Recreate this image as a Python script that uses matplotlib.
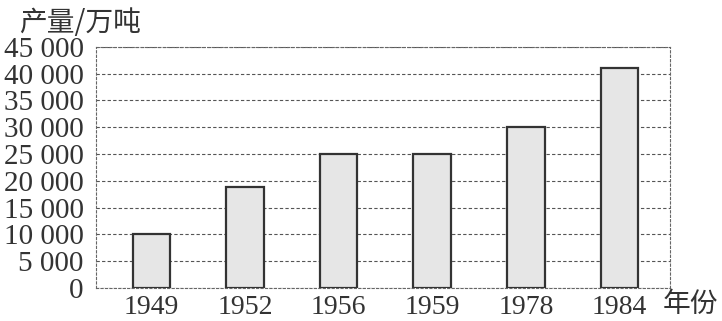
import matplotlib
matplotlib.use('Agg')
from matplotlib import pyplot as plt

years = ['1949', '1952', '1956', '1959', '1978', '1984']
output = [10000, 18800, 25000, 25000, 30000, 41000]
yticks = [0, 5000, 10000, 15000, 20000, 25000, 30000, 35000, 40000, 45000]
ytick_labels = ['0', '5 000', '10 000', '15 000', '20 000', '25 000',
                '30 000', '35 000', '40 000', '45 000']

plt.rcParams['font.family'] = ['Liberation Serif', 'Noto Sans CJK SC']

fig = plt.figure(figsize=(7.22, 3.21), dpi=100)
ax = fig.add_axes([0.133, 0.103, 0.795, 0.751])

x = range(len(years))
ax.bar(x, output, width=0.4, color='#e6e6e6', edgecolor='#333333',
       linewidth=1.6, zorder=3)

ax.set_xlim(-0.59, 5.54)
ax.set_ylim(0, 45000)
ax.set_yticks(yticks)
ax.set_yticklabels(ytick_labels, fontsize=21, color='#333333')
ax.set_xticks(list(x))
ax.set_xticklabels(years, fontsize=20, color='#333333')
ax.tick_params(length=0, pad=5)
ax.tick_params(axis='y', pad=9)

# пунктирна сітка та рамка
ax.grid(axis='y', linestyle=(0, (3, 2)), color='#555555', linewidth=0.8, zorder=0)
for side in ['left', 'right', 'top', 'bottom']:
    ax.spines[side].set_linestyle((0, (2, 2)))
    ax.spines[side].set_color('#666666')
    ax.spines[side].set_linewidth(0.8)

fig.text(0.027, 0.975, '产量/万吨', fontsize=20, va='top', ha='left',
         family=['Noto Sans CJK SC'], fontweight='light', color='#333333')
fig.text(0.918, 0.005, '年份', fontsize=20, va='bottom', ha='left',
         family=['Noto Sans CJK SC'], fontweight='light', color='#333333')

fig.savefig('out.png', dpi=100)
